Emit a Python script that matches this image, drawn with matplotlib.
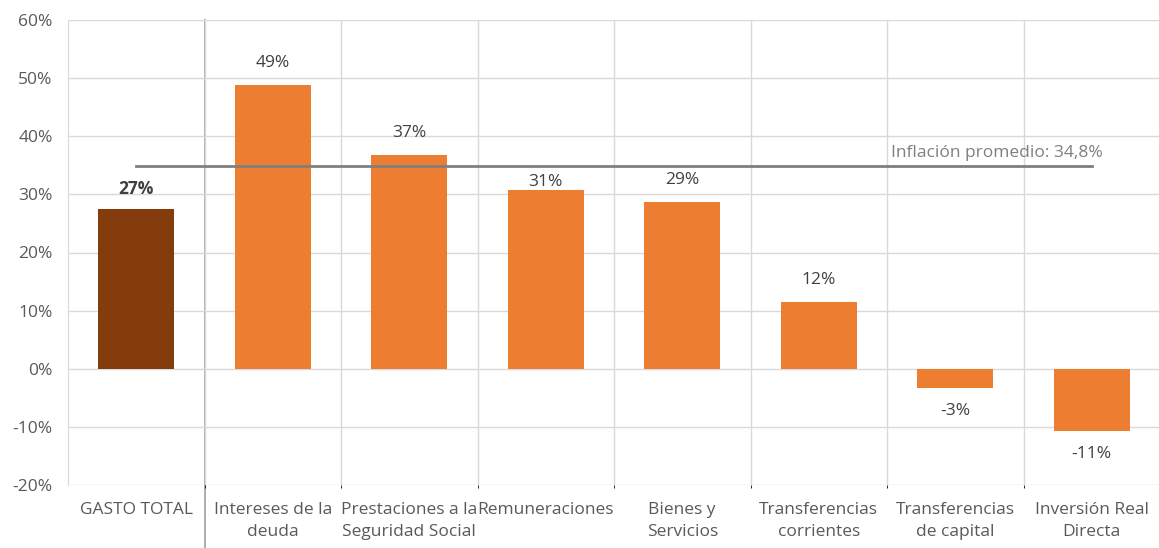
import matplotlib
matplotlib.use('Agg')
import matplotlib.pyplot as plt
from matplotlib.ticker import FuncFormatter

# datos
categorias = ['GASTO TOTAL', 'Intereses de la\ndeuda', 'Prestaciones a la\nSeguridad Social',
              'Remuneraciones', 'Bienes y\nServicios', 'Transferencias\ncorrientes',
              'Transferencias\nde capital', 'Inversión Real\nDirecta']
variacion = [27.4, 48.8, 36.7, 30.8, 28.7, 11.5, -3.3, -10.7]
etiquetas = ['27%', '49%', '37%', '31%', '29%', '12%', '-3%', '-11%']
inflacion = 34.8
texto_inflacion = 'Inflación promedio: 34,8%'

plt.rcParams['font.family'] = ['Open Sans', 'DejaVu Sans']
gris_texto = '#595959'
fs = 12.5

fig = plt.figure(figsize=(11.59, 5.48), dpi=100)
ax = fig.add_axes([68 / 1159, 1 - 485 / 548, (1160 - 68) / 1159, 465 / 548])

x = list(range(len(categorias)))
colores = ['#843C0C'] + ['#ED7D31'] * (len(categorias) - 1)
ax.bar(x, variacion, width=0.56, color=colores, zorder=2)

# linea de inflacion
ax.plot([0, len(categorias) - 1], [inflacion, inflacion], color='#7f7f7f', lw=2, zorder=3)
ax.text(7.08, inflacion + 0.9, texto_inflacion, ha='right', va='bottom',
        color='#7f7f7f', fontsize=fs, zorder=4)

# etiquetas de valores
for i, (v, t) in enumerate(zip(variacion, etiquetas)):
    off = 8 if i == 3 else 22
    if i == 0:
        off = 20
    if v < 0:
        off = -23
    ax.annotate(t, (i, v), xytext=(0, off * 0.72), textcoords='offset points',
                ha='center', va='center', fontsize=fs, color='#404040',
                fontweight='bold' if i == 0 else 'normal', zorder=4)

ax.set_xlim(-0.5, len(categorias) - 0.5)
ax.set_ylim(-20, 60)
ax.set_yticks(range(-20, 61, 10))
ax.yaxis.set_major_formatter(FuncFormatter(lambda v, p: f'{v:.0f}%'))
ax.set_xticks(x)
ax.set_xticklabels(categorias, fontsize=fs, color=gris_texto, linespacing=1.5)
ax.tick_params(axis='y', labelsize=fs, labelcolor=gris_texto, length=0, pad=11)
ax.tick_params(axis='x', length=0, pad=12.5)

# cuadricula
ax.set_xticks([i + 0.5 for i in range(len(categorias) - 1)], minor=True)
ax.grid(axis='y', color='#d9d9d9', lw=1, zorder=0)
ax.grid(axis='x', which='minor', color='#d9d9d9', lw=1, zorder=0)
for s in ['top', 'right', 'bottom']:
    ax.spines[s].set_visible(False)
ax.spines['left'].set_color('#d9d9d9')

# separador gasto total
ax.plot([0.5, 0.5], [60, -32], color='#a6a6a6', lw=1.3, clip_on=False, zorder=1)

fig.savefig('out.png', dpi=100)
